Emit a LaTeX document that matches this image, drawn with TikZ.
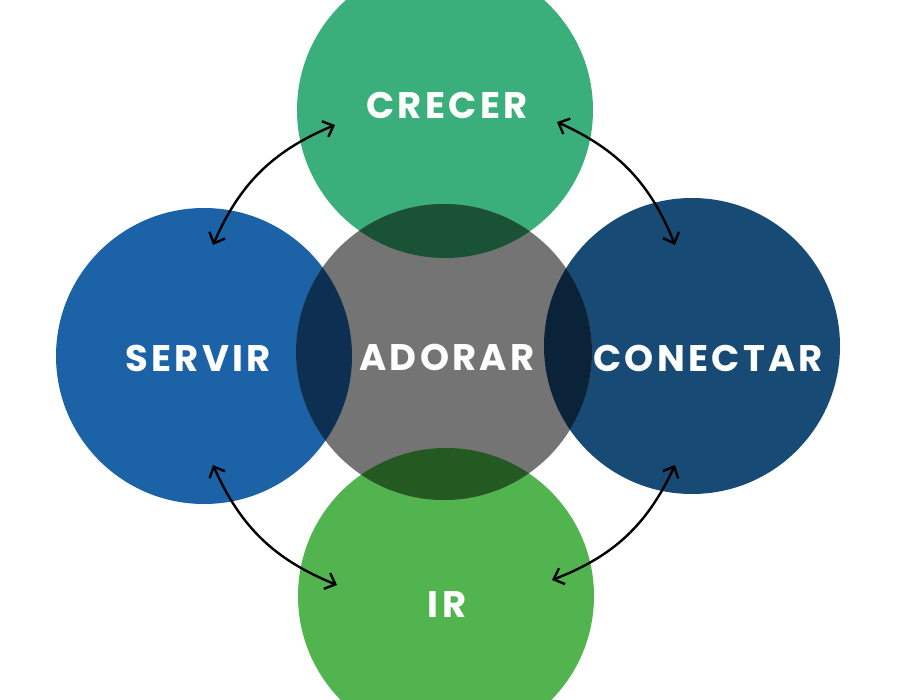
\documentclass[tikz,border=0pt]{standalone}
\usepackage{fontspec}
\setmainfont{Poppins}
\usetikzlibrary{arrows.meta}
\definecolor{crecerC}{HTML}{3AAF7C}
\definecolor{servirC}{HTML}{1B63A6}
\definecolor{conectarC}{HTML}{174A74}
\definecolor{adorarC}{HTML}{747474}
\definecolor{irC}{HTML}{51B44F}
\definecolor{ovCrecer}{HTML}{1A5236}
\definecolor{ovServir}{HTML}{0C2F52}
\definecolor{ovConectar}{HTML}{0B2339}
\definecolor{ovIr}{HTML}{245A22}
\begin{document}
\begin{tikzpicture}[x=1pt,y=-1pt,
  blob/.style={circle,inner sep=0pt,minimum size=296pt},
  lbl/.style={text=white,font=\fontsize{37}{42}\selectfont\bfseries\addfontfeatures{LetterSpace=9},inner sep=0pt},
  link/.style={line width=2.4pt,black,{Straight Barb[length=9pt,width=17pt,line width=2.4pt]}-{Straight Barb[length=9pt,width=17pt,line width=2.4pt]}}]
\useasboundingbox (0,0) rectangle (900,700);
\clip (0,0) rectangle (900,700);
\fill[white] (0,0) rectangle (900,700);
% circles
\node[blob,fill=crecerC] (crecer) at (445,110) {};
\node[blob,fill=servirC] (servir) at (204,356) {};
\node[blob,fill=conectarC] (conectar) at (692,346) {};
\node[blob,fill=irC] (ir) at (446,596) {};
\node[blob,fill=adorarC] (adorar) at (444,352) {};
% overlaps
\begin{scope}
\clip (444,352) circle (148);
\fill[ovCrecer] (445,110) circle (148);
\fill[ovServir] (204,356) circle (148);
\fill[ovConectar] (692,346) circle (148);
\fill[ovIr] (446,596) circle (148);
\end{scope}
% labels
\node[lbl] (tcrecer) at (447,105) {CRECER};
\node[lbl] (tservir) at (198,358) {SERVIR};
\node[lbl] (tadorar) at (447,357) {ADORAR};
\node[lbl] (tconectar) at (708,358) {CONECTAR};
\node[lbl] (tir) at (447,605) {IR};
% arrow end points
\coordinate (a1) at (213,245);
\coordinate (a2) at (335,125);
\coordinate (b1) at (557,122);
\coordinate (b2) at (675,245);
\coordinate (c1) at (337,585);
\coordinate (c2) at (213,465);
\coordinate (d1) at (675,465);
\coordinate (d2) at (552,580);
\draw[link] (a1) to[bend left=22] (a2);
\draw[link] (b1) to[bend left=22] (b2);
\draw[link] (c1) to[bend left=22] (c2);
\draw[link] (d1) to[bend left=22] (d2);
\end{tikzpicture}
\end{document}
